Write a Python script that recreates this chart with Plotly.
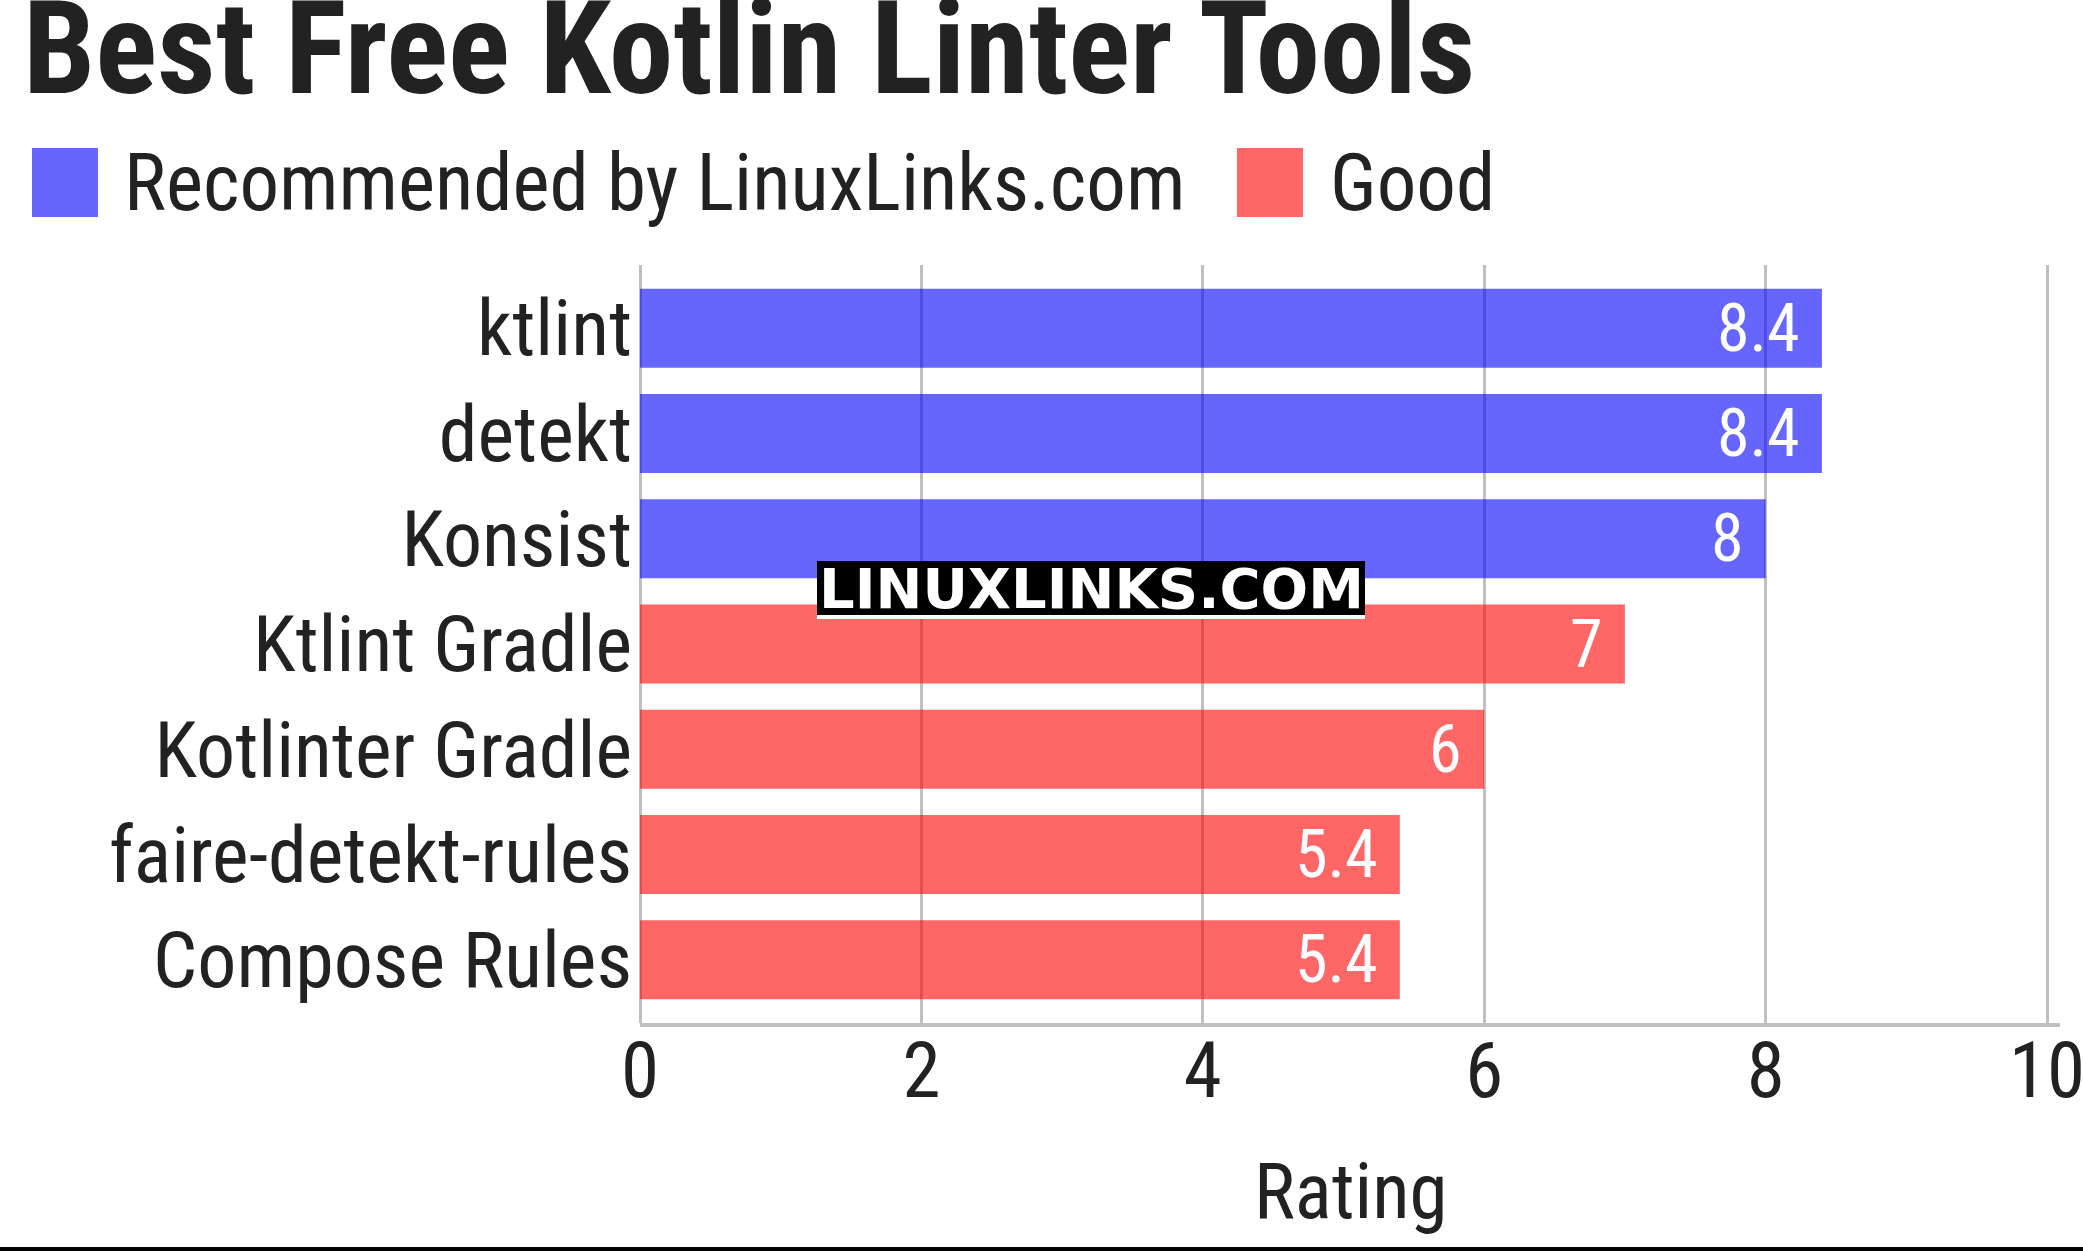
import plotly.graph_objects as go

# ---------------- data ----------------
tools = ["ktlint", "detekt", "Konsist", "Ktlint Gradle", "Kotlinter Gradle",
         "faire-detekt-rules", "Compose Rules"]
ratings = [8.4, 8.4, 8.0, 7.0, 6.0, 5.4, 5.4]
groups = ["Recommended by LinuxLinks.com"] * 3 + ["Good"] * 4
group_names = ["Recommended by LinuxLinks.com", "Good"]
group_colors = {"Recommended by LinuxLinks.com": "rgba(0,0,255,0.6)",
                "Good": "rgba(255,0,0,0.6)"}
x_ticks = [0, 2, 4, 6, 8, 10]
title_text = "Best Free Kotlin Linter Tools"
axis_title = "Rating"
watermark = "LINUXLINKS.COM"

# ---------------- layout geometry (pixels) ----------------
W, H = 2083, 1251
L, R, T, B = 640, 2060, 265, 1023

def xp(px):
    return (px - L) / (R - L)

def yp(py):
    return (B - py) / (B - T)

FONT = "Roboto Condensed, Liberation Sans Narrow, Roboto, sans-serif"
TXT = "#222222"

fig = go.Figure()
fig.add_trace(go.Bar(
    y=tools, x=ratings, orientation="h",
    marker=dict(color=[group_colors[g] for g in groups], line=dict(width=0)),
    width=0.75, showlegend=False, hoverinfo="x+y",
))

annotations = []
# value labels
for t, v in zip(tools, ratings):
    annotations.append(dict(
        x=v, y=t, xref="x", yref="y", text=f"{v:g}", showarrow=False,
        xanchor="right", yanchor="middle", xshift=-20,
        font=dict(family=FONT, size=66, color="white")))

# title
annotations.append(dict(
    x=xp(21), y=yp(49), xref="paper", yref="paper", text=title_text,
    showarrow=False, xanchor="left", yanchor="middle",
    font=dict(family=FONT, size=129, color=TXT, weight="bold")))

# axis title
annotations.append(dict(
    x=0.5, y=yp(1192), xref="paper", yref="paper", text=axis_title,
    showarrow=False, xanchor="center", yanchor="middle",
    font=dict(family=FONT, size=77, color=TXT)))

# manual legend
legend_pos = [(32, 122), (1237, 1328)]
shapes = []
for name, (sx, tx) in zip(group_names, legend_pos):
    shapes.append(dict(type="rect", xref="paper", yref="paper",
                       x0=xp(sx), x1=xp(sx + 66), y0=yp(148), y1=yp(217),
                       fillcolor=group_colors[name], line=dict(width=0)))
    annotations.append(dict(
        x=xp(tx), y=yp(183), xref="paper", yref="paper", text=name,
        showarrow=False, xanchor="left", yanchor="middle",
        font=dict(family=FONT, size=79, color=TXT)))

# watermark
shapes.append(dict(type="rect", xref="paper", yref="paper",
                   x0=xp(817), x1=xp(1365), y0=yp(561), y1=yp(615),
                   fillcolor="black", line=dict(width=0)))
shapes.append(dict(type="rect", xref="paper", yref="paper",
                   x0=xp(817), x1=xp(1365), y0=yp(615), y1=yp(619),
                   fillcolor="white", line=dict(width=0)))
annotations.append(dict(
    x=xp(1091), y=yp(588), xref="paper", yref="paper", text=watermark,
    showarrow=False, xanchor="center", yanchor="middle",
    font=dict(family="DejaVu Sans", size=56, color="white", weight="bold")))

# bottom border line
shapes.append(dict(type="line", xref="paper", yref="paper",
                   x0=xp(0), x1=xp(W), y0=yp(1249), y1=yp(1249),
                   line=dict(color="black", width=4)))

fig.update_layout(
    width=W, height=H,
    margin=dict(l=L, r=W - R, t=T, b=H - B, pad=0, autoexpand=False),
    paper_bgcolor="white", plot_bgcolor="white",
    annotations=annotations, shapes=shapes,
    showlegend=False,
    font=dict(family=FONT, color=TXT),
    xaxis=dict(
        range=[0, 10.092], tickvals=x_ticks, ticktext=[str(v) for v in x_ticks],
        showgrid=True, gridcolor="#c0c0c0", gridwidth=3,
        zeroline=True, zerolinecolor="#c0c0c0", zerolinewidth=3,
        showline=True, linecolor="#c0c0c0", linewidth=4,
        ticks="", ticklabelstandoff=-22, ticklabeloverflow="allow",
        tickfont=dict(family=FONT, size=77, color=TXT),
        automargin=False, fixedrange=True,
    ),
    yaxis=dict(
        categoryorder="array", categoryarray=tools,
        range=[6.6, -0.6], showgrid=False, zeroline=False, showline=False,
        ticks="", ticklabelstandoff=7,
        tickfont=dict(family=FONT, size=78, color=TXT),
        automargin=False, fixedrange=True,
    ),
)

fig.write_html("out.html")
